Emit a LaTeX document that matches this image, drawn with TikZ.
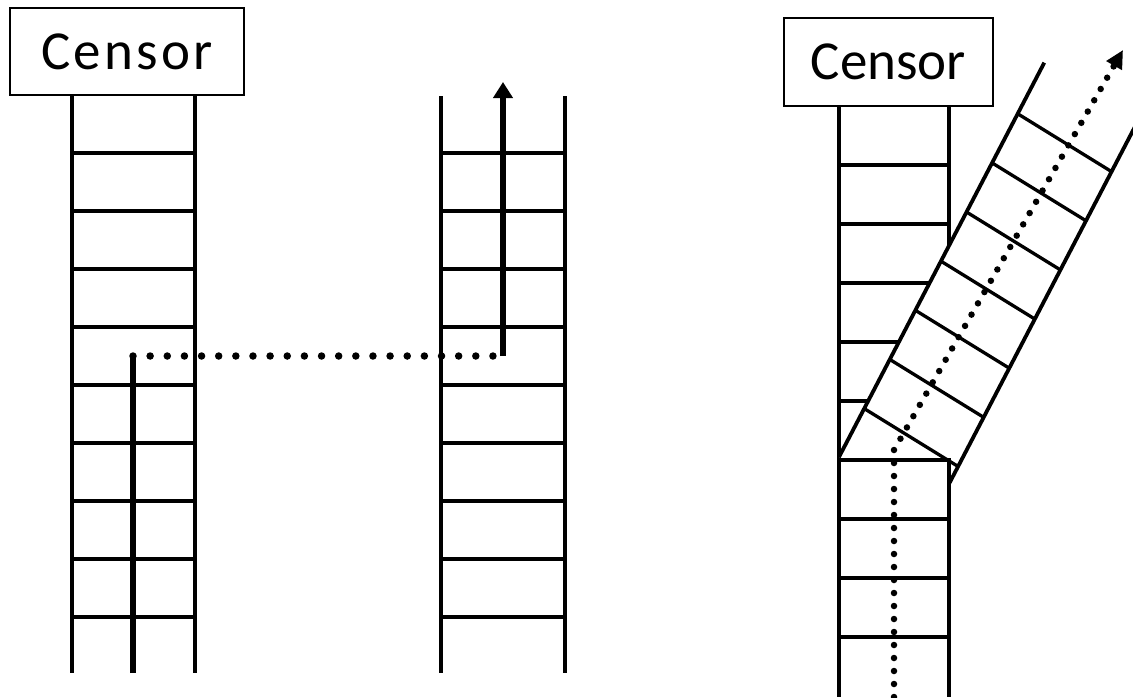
\documentclass[tikz,border=0pt]{standalone}
\usepackage{fontspec}
\setmainfont{Carlito}
\usetikzlibrary{arrows.meta}
\begin{document}
\begin{tikzpicture}[x=1pt,y=-1pt,
  rail/.style={line width=3.8pt},
  rung/.style={line width=3.3pt},
  censor/.style={draw, line width=1.5pt, inner sep=0pt, fill=white,
    font=\fontsize{55}{60}\selectfont},
  thickline/.style={line width=5.5pt},
  dotlineA/.style={line width=7.5pt, line cap=round, dash pattern=on 0pt off 17.14pt},
  dotlineB/.style={line width=6.5pt, line cap=round, dash pattern=on 0pt off 13pt}
]
\useasboundingbox (0,0) rectangle (1133,697);

% ---------- left figure ----------
\node[censor, minimum width=234pt, minimum height=87pt] (c1) at (127,51.5)
  {\addfontfeatures{LetterSpace=6}Censor};
\draw[rail] (72,95) -- (72,673) (195,95) -- (195,673);
\foreach \y in {153,211,...,617} \draw[rung] (72,\y) -- (195,\y);

\draw[rail] (441,96) -- (441,673) (565,96) -- (565,673);
\foreach \y in {153,211,...,617} \draw[rung] (441,\y) -- (565,\y);

\coordinate (a0) at (133,673);
\coordinate (a1) at (133,356);
\coordinate (a2) at (503,356);
\coordinate (a3) at (503,82);
\draw[thickline] (a0) -- (a1);
\draw[dotlineA] (a1) -- (a2);
\draw[thickline, -{Triangle[length=16pt,width=19pt]}] (a2) -- (a3);

% ---------- right figure ----------
\node[censor, minimum width=209pt, minimum height=88pt] (c2) at (888.5,62) {Censor};
\draw[rail] (839,106) -- (839,697) (949,106) -- (949,697);
\foreach \y in {165,224,...,637} \draw[rung] (839,\y) -- (949,\y);

\begin{scope}
  \clip (0,0) rectangle (1133,457);
  \fill[white, shift={(839,457)}, rotate=62.5]
    (0,0) -- (444.6,0) -- (440,110) -- (26.9,110) -- cycle;
\end{scope}
\begin{scope}[shift={(839,457)}, rotate=62.5]
  \draw[rail] (0,0) -- (444.6,0);
  \draw[rail] (26.9,110) -- (440,110);
  \foreach \k in {0,...,6}
    \draw[rung] ({54.6+55.4*\k},0) -- ({46.6+55.4*\k},110);
\end{scope}

\coordinate (b0) at (894,697);
\coordinate (b1) at (894,450);
\coordinate (b2) at (1123,50);
\draw[dotlineB, -{Triangle[length=18pt,width=17pt]}] (b0) -- (b1) -- (b2);
\end{tikzpicture}
\end{document}
